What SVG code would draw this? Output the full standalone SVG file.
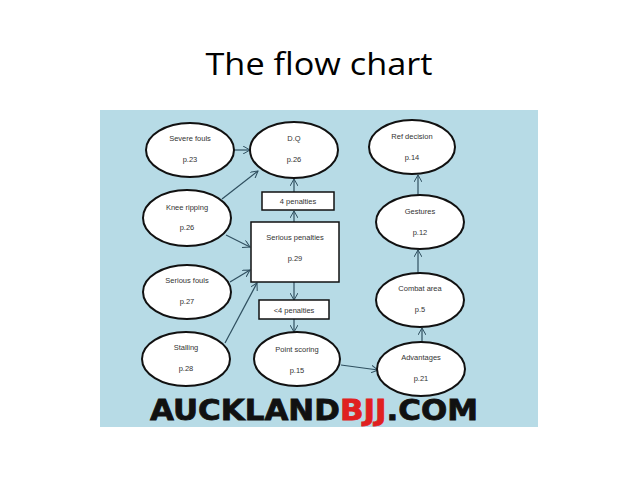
<svg xmlns="http://www.w3.org/2000/svg" width="638" height="479" viewBox="0 0 638 479">
<defs><marker id="a" markerWidth="8" markerHeight="8" refX="7" refY="4" orient="auto" markerUnits="userSpaceOnUse"><path d="M0,0L7,4L0,8" fill="none" stroke="#2f4f5f" stroke-width="1"/></marker></defs>
<style>
.e{fill:#fff;stroke:#111;stroke-width:2}
.r{fill:#fff;stroke:#111;stroke-width:1.5}
.t{font-family:"Liberation Sans",Arial,sans-serif;font-size:7.5px;fill:#333;text-anchor:middle}
.c line{stroke:#2f4f5f;stroke-width:1.2;marker-end:url(#a)}
</style>
<rect width="638" height="479" fill="#fff"/>
<text x="319" y="75" font-family="Open Sans,Liberation Sans,Arial,sans-serif" font-size="31" text-anchor="middle" textLength="227" lengthAdjust="spacingAndGlyphs" fill="#000">The flow chart</text>
<rect x="100" y="110" width="438" height="317" fill="#b7dbe6"/>
<g class="c">
<line x1="234" y1="150" x2="250" y2="150"/>
<line x1="222" y1="199" x2="258" y2="171"/>
<line x1="226" y1="235" x2="250" y2="247"/>
<line x1="230" y1="282" x2="250" y2="270"/>
<line x1="225" y1="343" x2="257" y2="283"/>
<line x1="294" y1="222" x2="294" y2="211"/>
<line x1="294" y1="192" x2="294" y2="179"/>
<line x1="294" y1="282" x2="294" y2="300"/>
<line x1="294" y1="319" x2="294" y2="332"/>
<line x1="341" y1="365" x2="378" y2="370"/>
<line x1="422" y1="342" x2="422" y2="328"/>
<line x1="418" y1="273" x2="418" y2="250"/>
<line x1="418" y1="195" x2="418" y2="175"/>
</g>
<g id="severe"><ellipse class="e" cx="190" cy="150" rx="44" ry="27"/><text class="t" x="190" y="141">Severe fouls</text><text class="t" x="190" y="162">p.23</text></g>
<g id="dq"><ellipse class="e" cx="294" cy="150" rx="44" ry="28"/><text class="t" x="294" y="141">D.Q</text><text class="t" x="294" y="162">p.26</text></g>
<g id="ref"><ellipse class="e" cx="412" cy="147" rx="43" ry="27"/><text class="t" x="412" y="139">Ref decision</text><text class="t" x="412" y="160">p.14</text></g>
<g id="knee"><ellipse class="e" cx="187" cy="218" rx="44" ry="28"/><text class="t" x="187" y="210">Knee ripping</text><text class="t" x="187" y="230">p.26</text></g>
<g id="gestures"><ellipse class="e" cx="420" cy="222" rx="44" ry="27"/><text class="t" x="420" y="214">Gestures</text><text class="t" x="420" y="235">p.12</text></g>
<g id="serfouls"><ellipse class="e" cx="187" cy="292" rx="44" ry="27"/><text class="t" x="187" y="283">Serious fouls</text><text class="t" x="187" y="304">p.27</text></g>
<g id="combat"><ellipse class="e" cx="420" cy="300" rx="44" ry="27"/><text class="t" x="420" y="291">Combat area</text><text class="t" x="420" y="312">p.5</text></g>
<g id="stalling"><ellipse class="e" cx="186" cy="359" rx="44" ry="27"/><text class="t" x="186" y="350">Stalling</text><text class="t" x="186" y="371">p.28</text></g>
<g id="point"><ellipse class="e" cx="297" cy="359" rx="43" ry="27"/><text class="t" x="297" y="352">Point scoring</text><text class="t" x="297" y="373">p.15</text></g>
<g id="adv"><ellipse class="e" cx="421" cy="369" rx="44" ry="27"/><text class="t" x="421" y="360">Advantages</text><text class="t" x="421" y="381">p.21</text></g>
<g id="serpen"><rect class="r" x="251" y="222" width="88" height="60"/><text class="t" x="295" y="240">Serious penalties</text><text class="t" x="295" y="261">p.29</text></g>
<g id="pen4"><rect class="r" x="262" y="192" width="72" height="18"/><text class="t" x="298" y="204">4 penalties</text></g>
<g id="penlt4"><rect class="r" x="259" y="300" width="70" height="19"/><text class="t" x="294" y="313">&lt;4 penalties</text></g>
<text x="150" y="420" font-family="DejaVu Sans,Liberation Sans,sans-serif" font-weight="bold" font-size="29" textLength="328" lengthAdjust="spacingAndGlyphs" fill="#111" stroke="#111" stroke-width="0.8">AUCKLAND<tspan fill="#e02020" stroke="#e02020">BJJ</tspan>.COM</text>
</svg>
